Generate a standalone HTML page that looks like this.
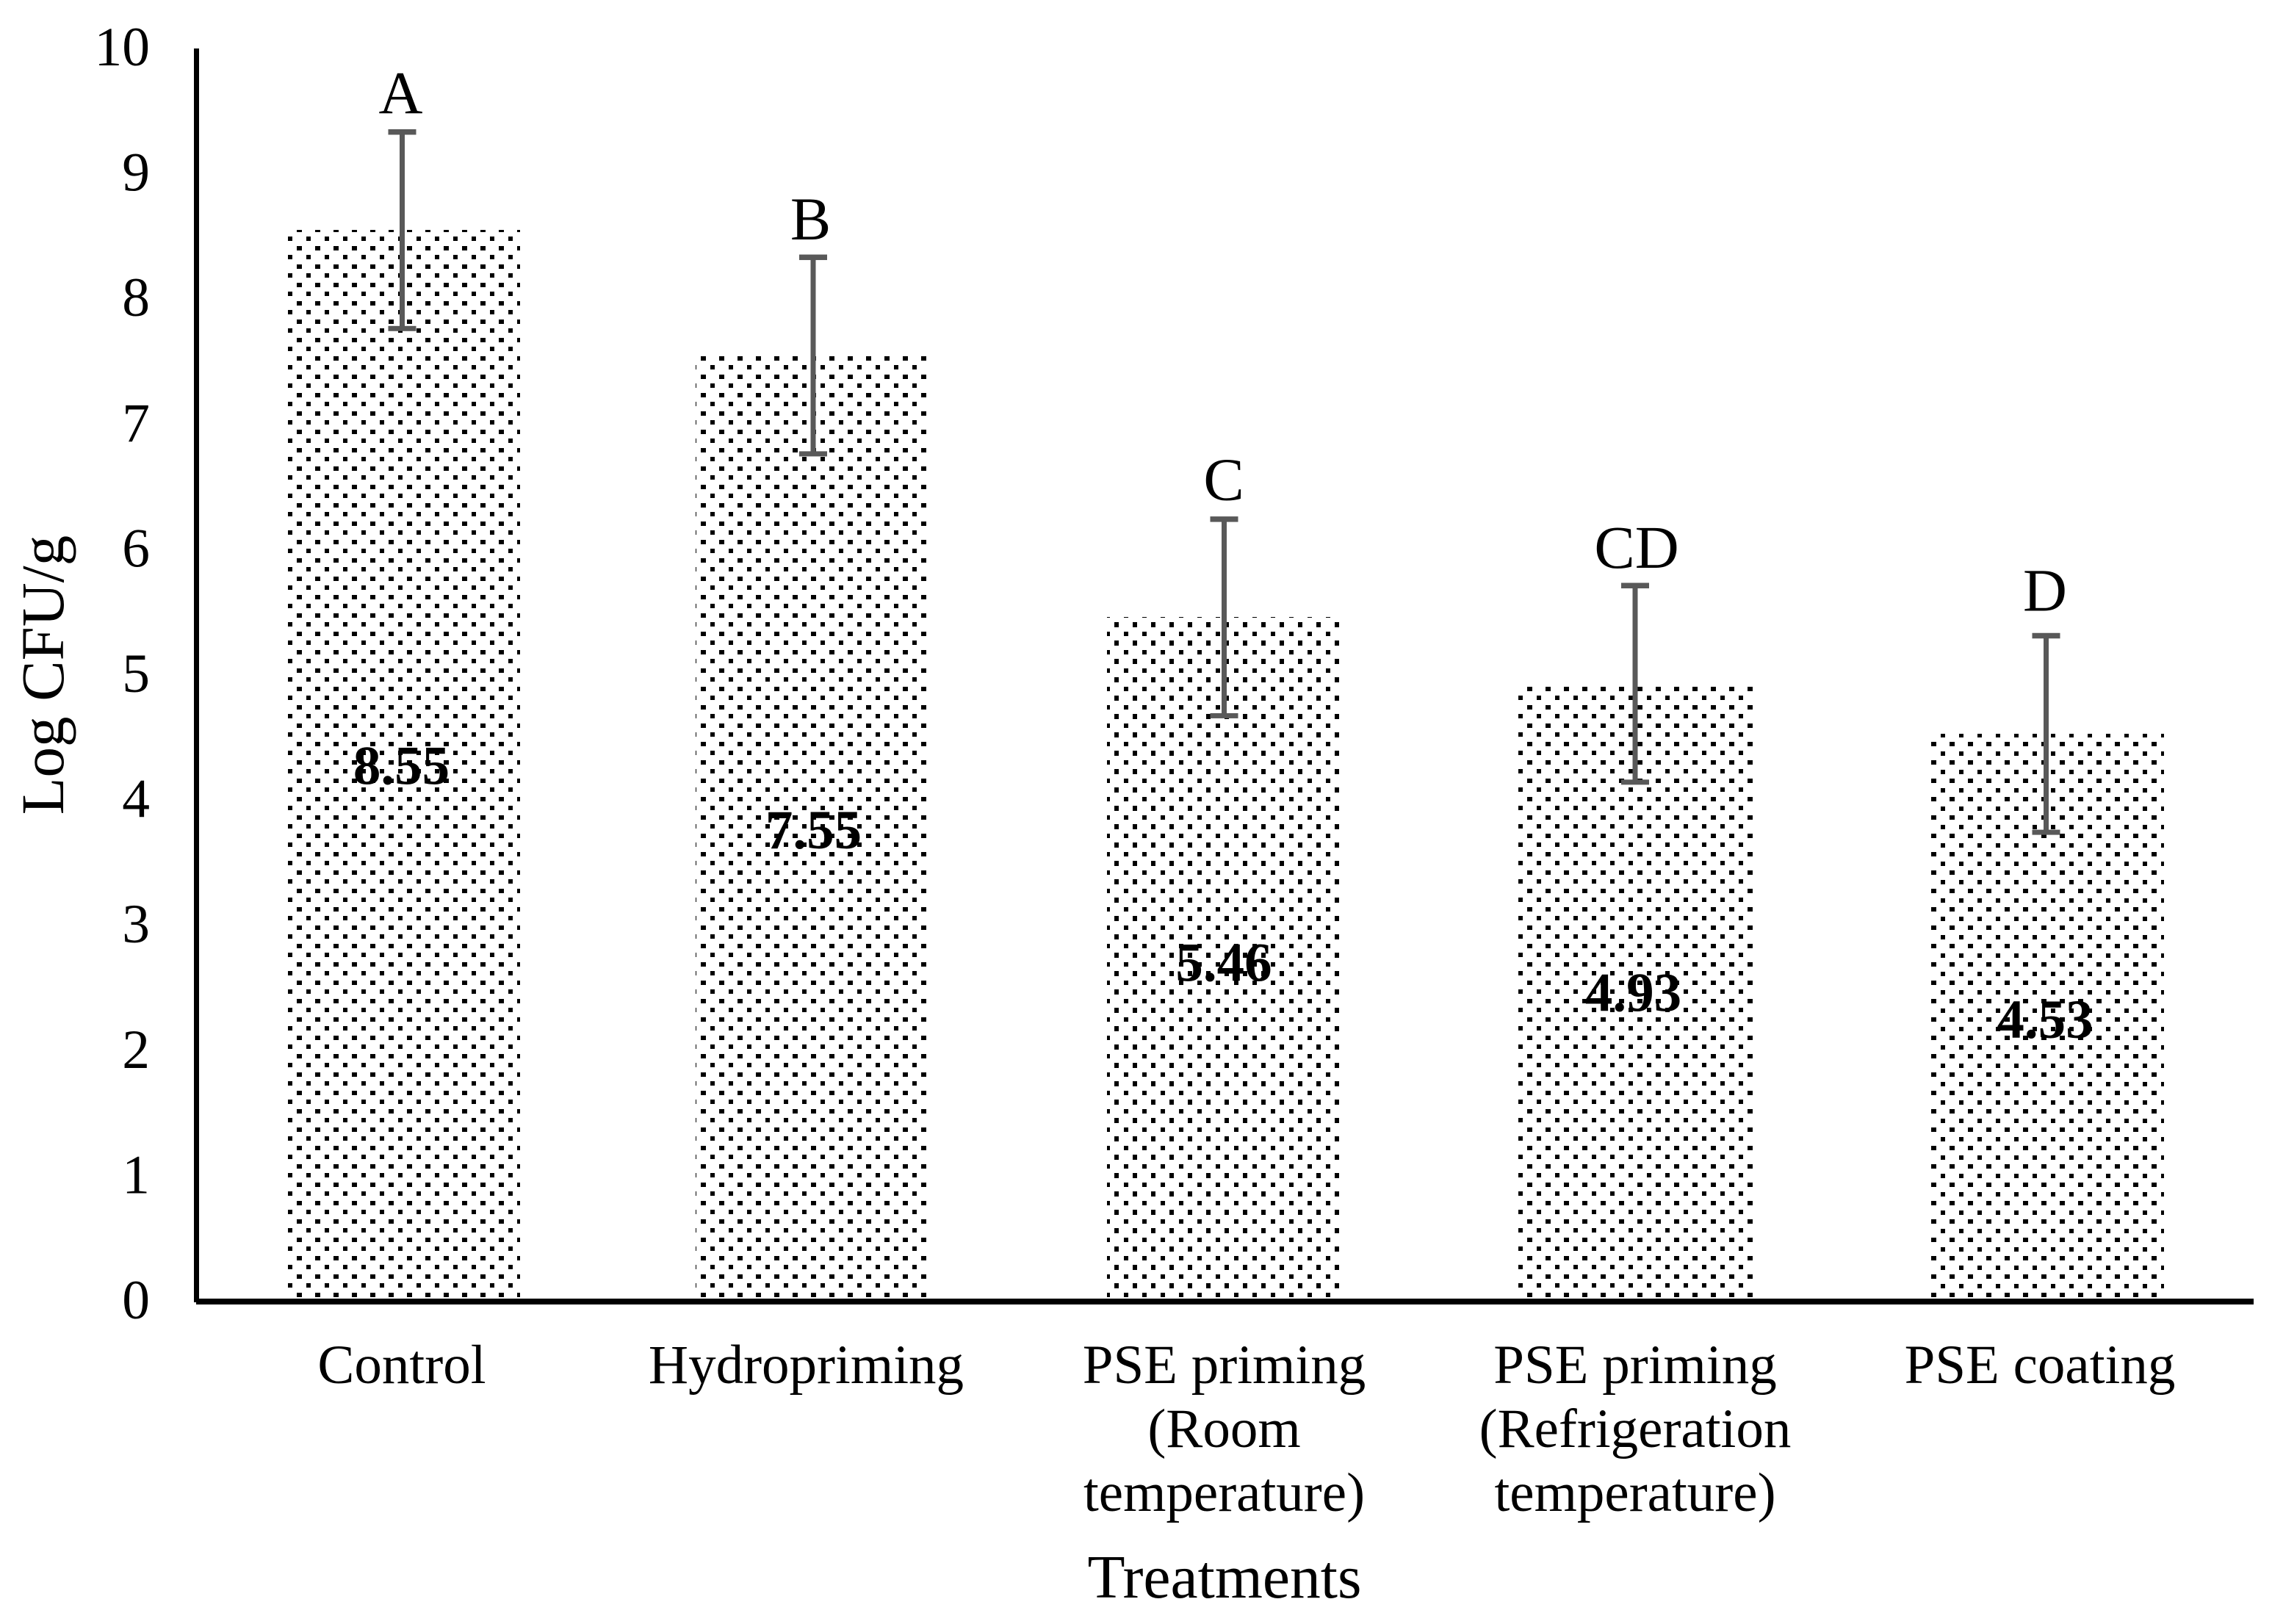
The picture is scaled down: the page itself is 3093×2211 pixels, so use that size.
<!DOCTYPE html>
<html lang="en">
<head>
<meta charset="utf-8">
<title>Log CFU/g by treatment</title>
<style>
  html, body { margin: 0; padding: 0; background: #fff; }
  svg { display: block; font-family: "Liberation Serif", "Times New Roman", serif; }
</style>
</head>
<body>
<svg id="chart" xmlns="http://www.w3.org/2000/svg" width="3093" height="2211" viewBox="0 0 3093 2211">
  <rect x="0" y="0" width="3093" height="2211" fill="#ffffff"/>
  <defs id="defs"></defs>
  <g id="bars"></g>
  <g id="errors"></g>
  <g id="values"></g>
  <g id="letters"></g>
  <g id="yticks"></g>
  <g id="xticks"></g>
  <rect x="264" y="66" width="7" height="1707" fill="#000"/>
  <rect x="267" y="1768" width="2801" height="8" fill="#000"/>
  <text transform="translate(86,919) rotate(-90)" text-anchor="middle" font-size="83" fill="#000">Log CFU/g</text>
  <text x="1667" y="2175" text-anchor="middle" font-size="83.6" fill="#000">Treatments</text>
</svg>
<script>
var categories = [
  ["Control"],
  ["Hydropriming"],
  ["PSE priming", "(Room", "temperature)"],
  ["PSE priming", "(Refrigeration", "temperature)"],
  ["PSE coating"]
];
var values = [8.55, 7.55, 5.46, 4.93, 4.53];
var errors = [0.785, 0.785, 0.785, 0.785, 0.785];
var letters = ["A", "B", "C", "CD", "D"];
var yTicks = [0, 1, 2, 3, 4, 5, 6, 7, 8, 9, 10];

/* Layout and style settings (not data) */
var hatchAnchors = [
  {x: 392,  y: 322,  bw: 6, bh: 6, dx: 12, dy: 13, aw: 7, ah: 6},
  {x: 942,  y: 497,  bw: 6, bh: 6, dx: 12, dy: 13, aw: 7, ah: 6},
  {x: 1505, y: 860,  bw: 6, bh: 6, dx: 12, dy: 12, aw: 6, ah: 7},
  {x: 2067, y: 947,  bw: 6, bh: 6, dx: 12, dy: 13, aw: 7, ah: 6},
  {x: 2629, y: 1010, bw: 7, bh: 6, dx: 13, dy: 13, aw: 6, ah: 6}
];
var categoryNudge = [-0.5, -9.5, 0, 0, -8.5];
var valueNudgeX = [-1, 0.5, -0.5, -2.5, -1.5];
var valueNudgeY = [25, 27, 29, 25, 27.5];
var letterNudgeX = [-2, -3.5, -0.5, 2, -1.5];
var letterGap = [25, 24, 26, 24, 34];

var NS = "http://www.w3.org/2000/svg";
function yScale(v) { return 1772 - v * 170.6; }
function xCenter(i) { return 547.5 + 559.5 * i; }
function make(tag, parent, props) {
  var el = document.createElementNS(NS, tag);
  for (var k in props) { el.setAttribute(k, props[k]); }
  parent.appendChild(el);
  return el;
}

var defs = document.getElementById("defs");
var barsG = document.getElementById("bars");
var errG = document.getElementById("errors");
var valG = document.getElementById("values");
var letG = document.getElementById("letters");
var yG = document.getElementById("yticks");
var xG = document.getElementById("xticks");

yTicks.forEach(function (t) {
  var label = make("text", yG, {x: 204, y: yScale(t) + 23, "text-anchor": "end", "font-size": 75.5, fill: "#000"});
  label.textContent = String(t);
  
  
});

values.forEach(function (v, i) {
  var c = xCenter(i);
  var a = hatchAnchors[i];

  var pat = make("pattern", defs, {id: "hatch" + i, patternUnits: "userSpaceOnUse", x: a.x, y: a.y, width: 25, height: 25});
  make("rect", pat, {x: 0, y: 0, width: a.bw, height: a.bh, fill: "#000"});
  make("rect", pat, {x: a.dx, y: a.dy, width: a.aw, height: a.ah, fill: "#000"});

  var top = Math.floor(yScale(v));
  var bar = make("rect", barsG, {x: Math.floor(c - 159.5), y: top, width: 320, height: 1768 - top, fill: "url(#hatch" + i + ")"});
  
  

  var hi = yScale(v + errors[i]);
  var lo = yScale(v - errors[i]);
  var stem = make("rect", errG, {x: c - 3.5, y: hi, width: 7, height: lo - hi, fill: "#595959"});
  
  
  var capTop = make("rect", errG, {x: c - 19, y: hi - 3.5, width: 38, height: 7.5, fill: "#595959"});
  
  
  var capBottom = make("rect", errG, {x: c - 19, y: lo - 3.5, width: 38, height: 7, fill: "#595959"});
  
  

  var val = make("text", valG, {x: c + valueNudgeX[i], y: (yScale(v) + 1772) / 2 + valueNudgeY[i], "text-anchor": "middle", "font-size": 75, "font-weight": "bold", fill: "#000"});
  val.textContent = v.toFixed(2);
  
  

  var letter = make("text", letG, {x: c + letterNudgeX[i], y: hi - letterGap[i], "text-anchor": "middle", "font-size": 83, fill: "#000"});
  letter.textContent = letters[i];
  
  

  var cat = make("text", xG, {"text-anchor": "middle", "font-size": 75, fill: "#000"});
  
  
  categories[i].forEach(function (line, n) {
    var ts = make("tspan", cat, {x: c + categoryNudge[i], y: 1883 + n * 87});
    ts.textContent = line;
  });
});
</script>
</body>
</html>
